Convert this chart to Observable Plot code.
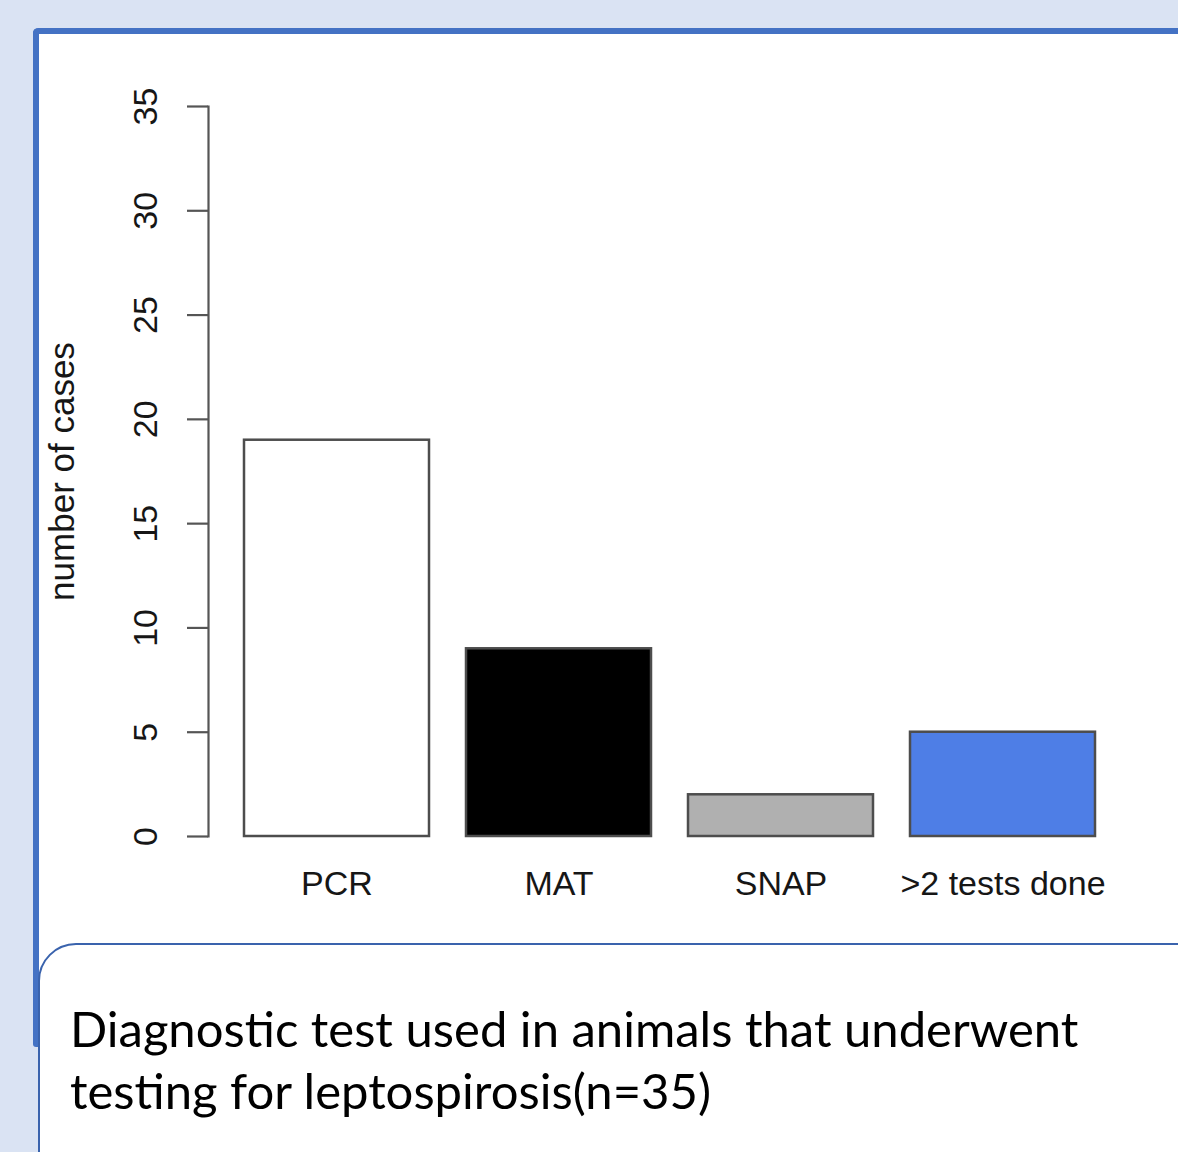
<!DOCTYPE html>
<html>
<head>
<meta charset="utf-8">
<script src="https://cdn.jsdelivr.net/npm/d3@7"></script>
<script src="https://cdn.jsdelivr.net/npm/@observablehq/plot@0.6"></script>
<style>
  html, body { margin: 0; padding: 0; }
  body { width: 1178px; height: 1152px; background: #dae3f3; position: relative; overflow: hidden; }
  #panel { position: absolute; left: 33px; top: 28px; width: 1300px; height: 1013px;
    background: #fff; border-left: 6px solid #4472c4; border-top: 6px solid #4472c4;
    border-top-left-radius: 5px; border-bottom-left-radius: 3px; }
  #chart { position: absolute; left: 0; top: 0; }
  #caption { position: absolute; left: 38px; top: 943px; width: 1300px; height: 400px;
    background: #fff; border: 2px solid #3a63ad; border-top-left-radius: 38px; box-sizing: border-box; }
  #captext { position: absolute; left: 70px; top: 997px; font-family: Lato, "Open Sans", sans-serif;
    font-size: 49px; line-height: 62px; color: #000; white-space: nowrap; }
</style>
</head>
<body>
<div id="panel"></div>
<div id="chart"></div>
<div id="caption"></div>
<div id="captext"></div>
<script>
const categories = ["PCR", "MAT", "SNAP", ">2 tests done"];
const cases = [19, 9, 2, 5];
const yTicks = [0, 5, 10, 15, 20, 25, 30, 35];
const barColors = ["#ffffff", "#000000", "#b0b0b0", "#4e7ee6"];
const yLabel = "number of cases";
const captionLines = ["Diagnostic test used in animals that underwent", "testing for leptospirosis(n=35)"];

const data = categories.map((c, i) => ({cat: c, value: cases[i]}));
const font = "'Liberation Sans', Arial, Helvetica, sans-serif";
const textColor = "#161616";

const plot = Plot.plot({
  width: 1178,
  height: 940,
  marginLeft: 208,
  marginRight: 40,
  marginTop: 106,
  marginBottom: 104,
  style: {background: "transparent", fontFamily: font},
  x: {domain: categories, range: [243, 1097], paddingInner: 0.165, paddingOuter: 0, axis: null},
  y: {domain: [0, 35], axis: null},
  color: {domain: categories, range: barColors},
  marks: [
    Plot.barY(data, {x: "cat", y: "value", fill: "cat", stroke: "#4d4d4d", strokeWidth: 2.5}),
    Plot.axisY({ticks: yTicks, tickSize: 21, tickFormat: () => "", stroke: "#555", strokeWidth: 2.2, label: null}),
    Plot.frame({anchor: "left", stroke: "#555", strokeWidth: 2.2}),
    Plot.text(yTicks, {y: d => d, text: d => String(d), frameAnchor: "left", dx: -62, rotate: -90,
      fontSize: 34, fill: textColor, textAnchor: "middle", lineAnchor: "middle"}),
    Plot.text([yLabel], {text: d => d, frameAnchor: "left", dx: -146, rotate: -90,
      fontSize: 35, fill: textColor, textAnchor: "middle", lineAnchor: "middle"}),
    Plot.text(categories, {x: d => d, text: d => d, frameAnchor: "bottom", dy: 48,
      fontSize: 34, fill: textColor, textAnchor: "middle", lineAnchor: "middle"})
  ]
});
document.getElementById("chart").appendChild(plot);
document.getElementById("captext").innerHTML = captionLines.join("<br>");
</script>
</body>
</html>
